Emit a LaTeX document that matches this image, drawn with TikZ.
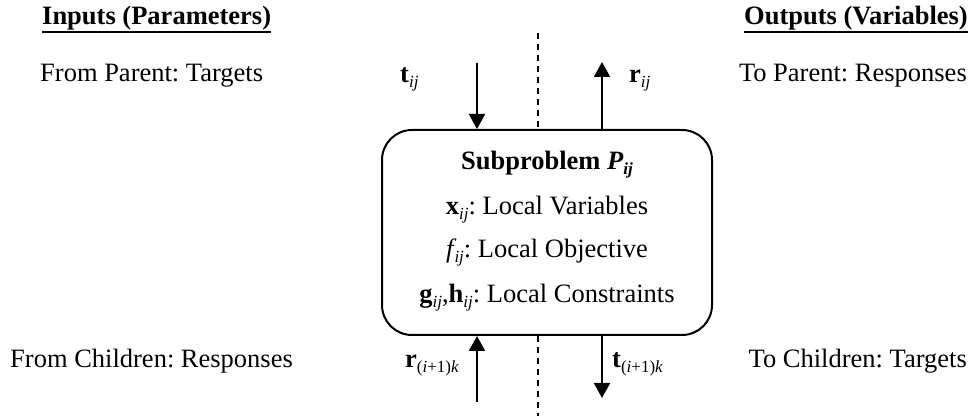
\documentclass[tikz,border=0pt]{standalone}
\usepackage{fontspec}
\setmainfont{Liberation Serif}
\usetikzlibrary{arrows.meta}
% small italic-capable subscript, lowered below the baseline
\newcommand\lsub[1]{\raisebox{-5pt}{\fontsize{17}{17}\selectfont #1}}
\frenchspacing
\begin{document}
\begin{tikzpicture}[x=1pt,y=-1pt,
  txt/.style={inner sep=0pt, font=\fontsize{26.5}{30}\selectfont},
  head/.style={inner sep=0pt, font=\fontsize{26.5}{30}\selectfont\bfseries},
  flow/.style={line width=2pt, -{Triangle[width=16pt,length=15pt]}},
  divider/.style={line width=2pt, dash pattern=on 6pt off 5pt},
  panel/.style={draw, line width=2pt, rounded corners=30pt,
    minimum width=330pt, minimum height=205pt, inner sep=0pt}]
\useasboundingbox (0,0) rectangle (977,419);

% column headings
\node[head, anchor=base west] (hin) at (42,25) {Inputs (Parameters)};
\node[head, anchor=base east] (hout) at (968,25) {Outputs (Variables)};
\draw[line width=2.2pt] ([yshift=-7pt]hin.base west) -- ([yshift=-7pt]hin.base east);
\draw[line width=2.2pt] ([yshift=-7pt]hout.base west) -- ([yshift=-7pt]hout.base east);

% side descriptions
\node[txt, anchor=base west] (fpar) at (40,82) {From Parent: Targets};
\node[txt, anchor=base east] (tpar) at (967,82) {To Parent: Responses};
\node[txt, anchor=base west] (fchi) at (10,368) {From Children: Responses};
\node[txt, anchor=base east] (tchi) at (967,368) {To Children: Targets};

% subproblem box
\node[panel] (box) at (547,232.5) {};
\node[head, anchor=base] (ttl) at (547,170) {Subproblem \textit{P}\lsub{\itshape ij}};
\node[txt, anchor=base] (lvar) at (547,215) {\textbf{x}\lsub{\itshape ij}: Local Variables};
\node[txt, anchor=base] (lobj) at (547,258) {\textit{f}\kern-2pt\lsub{\itshape ij}: Local Objective};
\node[txt, anchor=base] (lcon) at (547,303) {\textbf{g}\lsub{\itshape ij},\textbf{h}\lsub{\itshape ij}: Local Constraints};

% arrow labels
\node[txt, anchor=base west] (ltij) at (400,83) {\textbf{t}\lsub{\itshape ij}};
\node[txt, anchor=base west] (lrij) at (629,83) {\textbf{r}\lsub{\itshape ij}};
\node[txt, anchor=base west] (lrk) at (405,368) {\textbf{r}\lsub{(\textit{i}+1)\textit{k}}};
\node[txt, anchor=base west] (ltk) at (612,368) {\textbf{t}\lsub{(\textit{i}+1)\textit{k}}};

% free ends of the connectors
\coordinate (tinS) at (477,63);
\coordinate (routE) at (602,62);
\coordinate (rinS) at (477,402);
\coordinate (toutE) at (602,398);
\coordinate (dTop) at (538,33);
\coordinate (dBot) at (538,416);

% flows across the box boundary
\draw[flow] (tinS) -- (tinS |- box.north);
\draw[flow] (routE |- box.north) -- (routE);
\draw[flow] (rinS) -- (rinS |- box.south);
\draw[flow] (toutE |- box.south) -- (toutE);

% dashed divider between inputs and outputs
\draw[divider] (dTop) -- (dTop |- box.north);
\draw[divider] (dBot |- box.south) -- (dBot);
\end{tikzpicture}
\end{document}
